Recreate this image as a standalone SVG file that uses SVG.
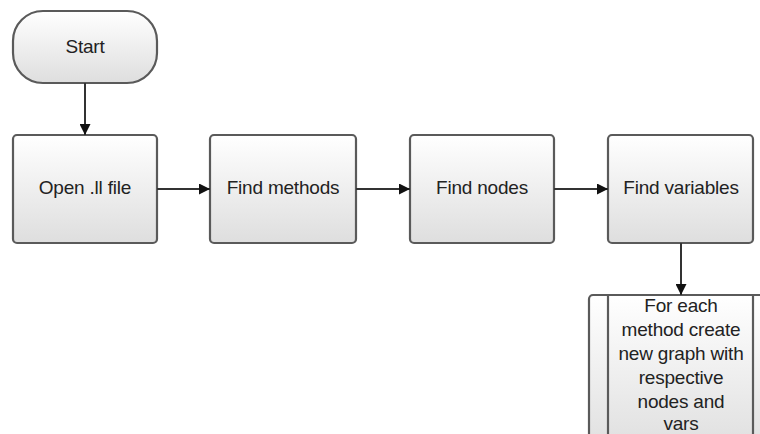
<svg xmlns="http://www.w3.org/2000/svg" width="760" height="434" viewBox="0 0 760 434">
  <defs>
    <linearGradient id="fill" x1="0" y1="0" x2="0" y2="1">
      <stop offset="0" stop-color="#ffffff"/>
      <stop offset="1" stop-color="#dedede"/>
    </linearGradient>
    <marker id="arrow" viewBox="0 0 10 10" refX="10" refY="5" markerWidth="11" markerHeight="11" markerUnits="userSpaceOnUse" orient="auto">
      <path d="M0,0 L10,5 L0,10 z" fill="#111"/>
    </marker>
    <style>
      .shape { fill: url(#fill); stroke: #5a5a5a; stroke-width: 2.2; }
      .line { fill: none; stroke: #5a5a5a; stroke-width: 2.2; }
      .edge { fill: none; stroke: #333; stroke-width: 2; marker-end: url(#arrow); }
      text { font-family: "Liberation Sans", Arial, sans-serif; font-size: 19px; fill: #222; text-anchor: middle; letter-spacing: -0.2px; }
    </style>
  </defs>
  <rect width="760" height="434" fill="#ffffff"/>

  <g id="start">
    <rect class="shape" x="13" y="11" width="144" height="72" rx="30" ry="30"/>
    <text x="85" y="53">Start</text>
  </g>

  <g id="open-file">
    <rect class="shape" x="13" y="135" width="144" height="108" rx="4"/>
    <text x="85" y="194">Open .ll file</text>
  </g>

  <g id="find-methods">
    <rect class="shape" x="210" y="135" width="146" height="108" rx="4"/>
    <text x="283" y="194">Find methods</text>
  </g>

  <g id="find-nodes">
    <rect class="shape" x="410" y="135" width="144" height="108" rx="4"/>
    <text x="482" y="194">Find nodes</text>
  </g>

  <g id="find-variables">
    <rect class="shape" x="608" y="135" width="145" height="108" rx="4"/>
    <text x="681" y="194">Find variables</text>
  </g>

  <g id="per-method-graph">
    <rect class="shape" x="589" y="295" width="183" height="160" rx="4"/>
    <line class="line" x1="608" y1="295" x2="608" y2="455"/>
    <line class="line" x1="753" y1="295" x2="753" y2="455"/>
    <text x="681" y="312">For each</text>
    <text x="681" y="336">method create</text>
    <text x="681" y="360">new graph with</text>
    <text x="681" y="384">respective</text>
    <text x="681" y="408">nodes and</text>
    <text x="681" y="430">vars</text>
  </g>

  <g id="connectors">
    <path class="edge" d="M85,83 L85,135"/>
    <path class="edge" d="M157,189 L210,189"/>
    <path class="edge" d="M356,189 L410,189"/>
    <path class="edge" d="M554,189 L608,189"/>
    <path class="edge" d="M681,243 L681,295"/>
  </g>
</svg>
